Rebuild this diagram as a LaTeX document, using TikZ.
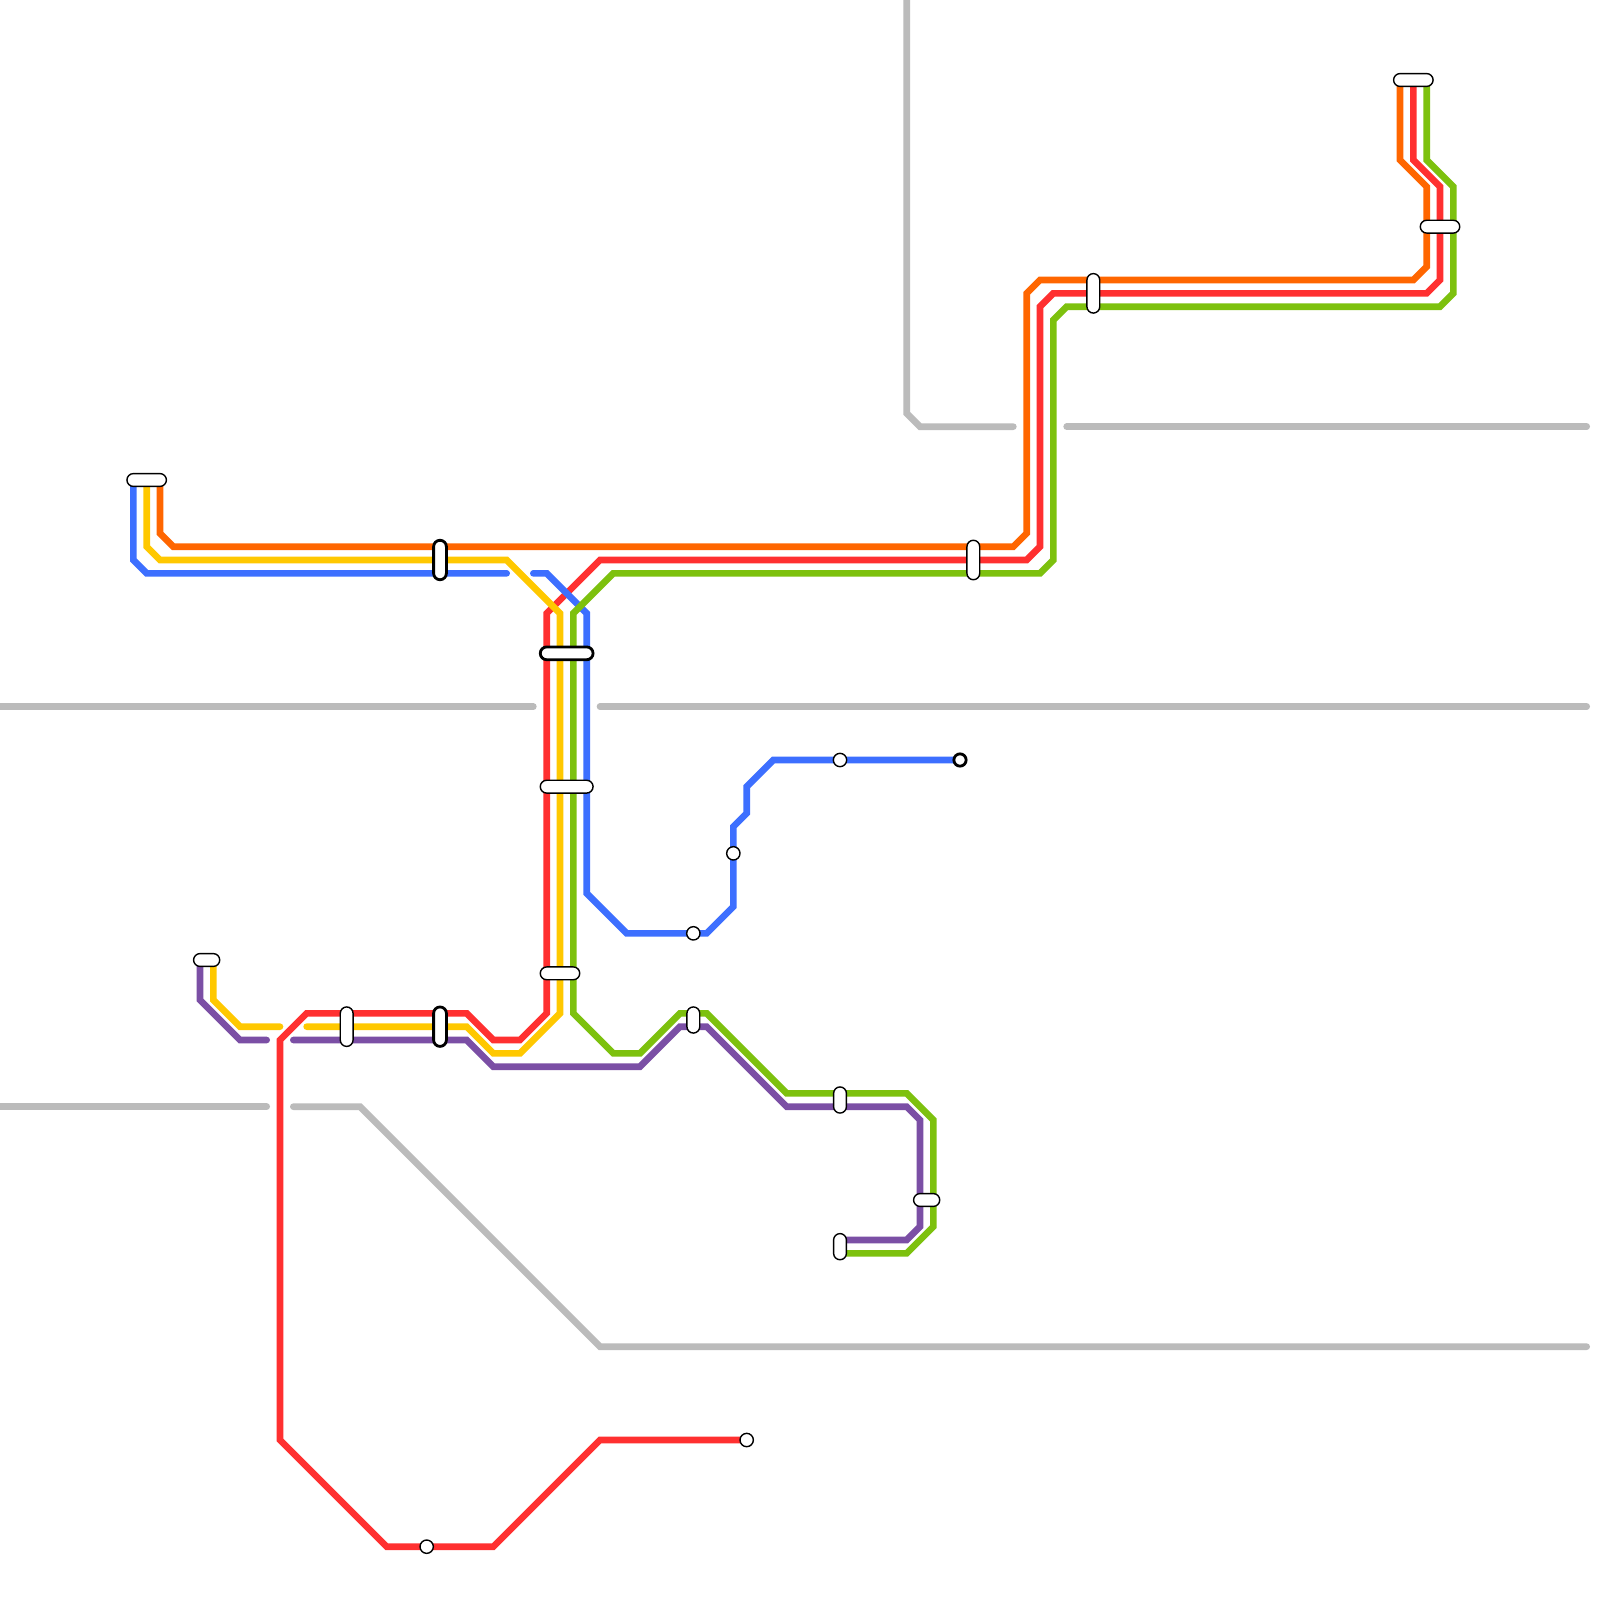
\documentclass[tikz,border=0pt]{standalone}
\definecolor{lred}{HTML}{FF3030}
\definecolor{lorange}{HTML}{FF6600}
\definecolor{lyellow}{HTML}{FFC800}
\definecolor{lgreen}{HTML}{7DC10E}
\definecolor{lblue}{HTML}{3D6FFF}
\definecolor{lpurple}{HTML}{7B4FA5}
\definecolor{lgray}{HTML}{BBBBBB}
\tikzset{
  railline/.style={line width=1.875mm*2/3,line cap=round,line join=miter,miter limit=10},
  river/.style={railline,draw=lgray},
  thinstop/.style={draw=black,fill=white,line width=0.75pt,inner sep=0pt,outer sep=0pt},
  boldstop/.style={thinstop,line width=1.5pt},
  hstop/.style={rounded corners=1.2mm,minimum height=2.4mm,minimum width=#1*0.25cm+2.4mm},
  vstop/.style={rounded corners=1.2mm,minimum width=2.4mm,minimum height=#1*0.25cm+2.4mm},
  dotstop/.style={circle,minimum size=2.5mm}
}
\begin{document}
\begin{tikzpicture}[x=0.25cm,y=-0.25cm]
\useasboundingbox[fill=white] (0,0) rectangle (120,120);
% rivers
\draw[river] (68,0) -- (68,31) -- (69,32) -- (76,32);
\draw[river] (80,32) -- (119,32);
\draw[river] (0,53) -- (40,53);
\draw[river] (45,53) -- (119,53);
\draw[river] (0,83) -- (20,83);
\draw[river] (22,83) -- (27,83) -- (45,101) -- (119,101);
% red
\draw[railline,lred] (106,6) -- (106,12) -- (108,14) -- (108,21) -- (107,22) -- (79,22) -- (78,23) -- (78,41) -- (77,42) -- (45,42) -- (41,46) -- (41,76) -- (39,78) -- (37,78) -- (35,76) -- (23,76) -- (21,78) -- (21,108) -- (29,116) -- (37,116) -- (45,108) -- (56,108);
% orange
\draw[railline,lorange] (12,36) -- (12,40) -- (13,41) -- (76,41) -- (77,40) -- (77,22) -- (78,21) -- (106,21) -- (107,20) -- (107,14) -- (105,12) -- (105,6);
% blue
\draw[railline,lblue] (10,36) -- (10,42) -- (11,43) -- (38,43);
\draw[railline,lblue] (40,43) -- (41,43) -- (44,46) -- (44,67) -- (47,70) -- (53,70) -- (55,68) -- (55,62) -- (56,61) -- (56,59) -- (58,57) -- (72,57);
% yellow
\draw[railline,lyellow] (11,36) -- (11,41) -- (12,42) -- (38,42) -- (42,46) -- (42,76) -- (39,79) -- (37,79) -- (35,77) -- (23,77);
\draw[railline,lyellow] (21,77) -- (18,77) -- (16,75) -- (16,72);
% purple
\draw[railline,lpurple] (15,72) -- (15,75) -- (18,78) -- (20,78);
\draw[railline,lpurple] (22,78) -- (35,78) -- (37,80) -- (48,80) -- (51,77) -- (53,77) -- (59,83) -- (68,83) -- (69,84) -- (69,92) -- (68,93) -- (63,93);
% green
\draw[railline,lgreen] (107,6) -- (107,12) -- (109,14) -- (109,22) -- (108,23) -- (80,23) -- (79,24) -- (79,42) -- (78,43) -- (46,43) -- (43,46) -- (43,76) -- (46,79) -- (48,79) -- (51,76) -- (53,76) -- (59,82) -- (68,82) -- (70,84) -- (70,92) -- (68,94) -- (63,94);
% stations
\node[thinstop,hstop=2] (s1) at (11,36) {};
\node[boldstop,vstop=2] (s2) at (33,42) {};
\node[boldstop,hstop=3] (s3) at (42.5,49) {};
\node[thinstop,hstop=3] (s4) at (42.5,59) {};
\node[thinstop,hstop=2] (s5) at (42,73) {};
\node[thinstop,hstop=1] (s6) at (15.5,72) {};
\node[thinstop,vstop=2] (s7) at (26,77) {};
\node[boldstop,vstop=2] (s8) at (33,77) {};
\node[thinstop,vstop=1] (s9) at (52,76.5) {};
\node[thinstop,vstop=1] (s10) at (63,82.5) {};
\node[thinstop,hstop=1] (s11) at (69.5,90) {};
\node[thinstop,vstop=1] (s12) at (63,93.5) {};
\node[thinstop,vstop=2] (s13) at (73,42) {};
\node[thinstop,vstop=2] (s14) at (82,22) {};
\node[thinstop,hstop=2] (s15) at (106,6) {};
\node[thinstop,hstop=2] (s16) at (108,17) {};
\node[thinstop,dotstop] (d1) at (52,70) {};
\node[thinstop,dotstop] (d2) at (55,64) {};
\node[thinstop,dotstop] (d3) at (63,57) {};
\node[boldstop,dotstop,minimum size=2.3mm] (d4) at (72,57) {};
\node[thinstop,dotstop] (d5) at (56,108) {};
\node[thinstop,dotstop] (d6) at (32,116) {};
\end{tikzpicture}
\end{document}
